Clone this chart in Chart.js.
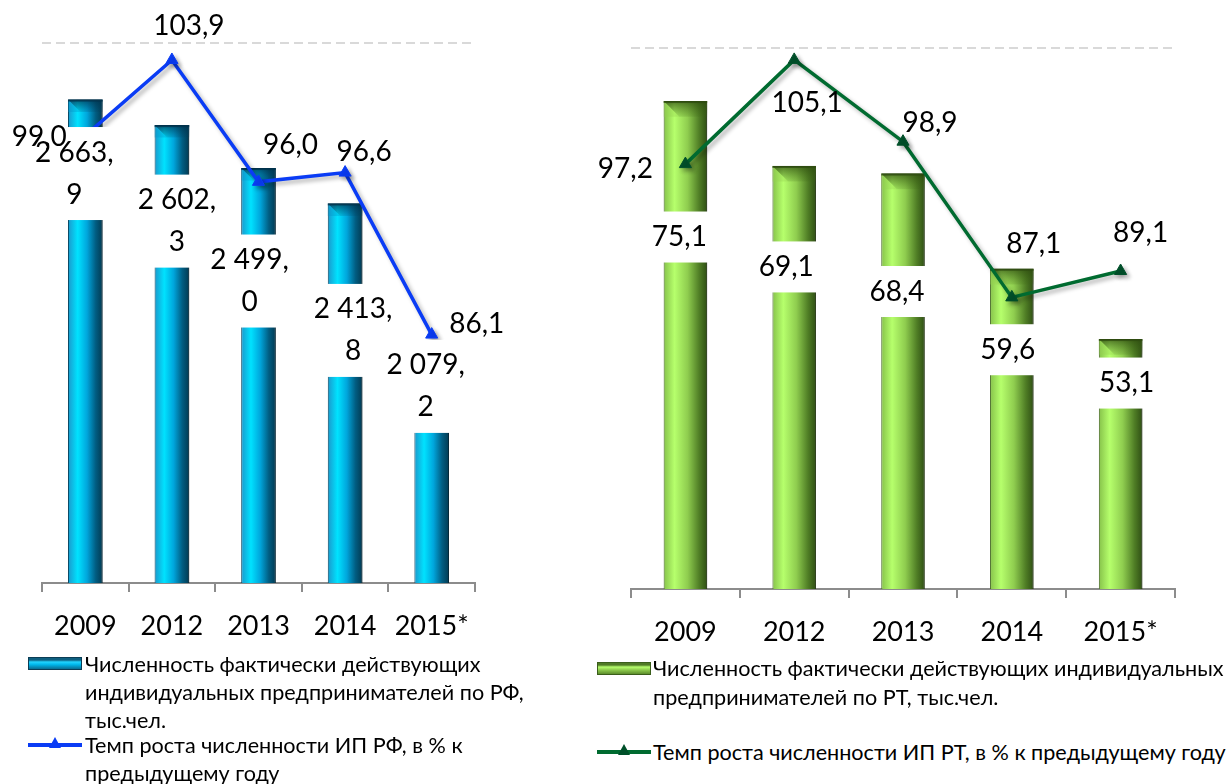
<!DOCTYPE html>
<html lang="ru">
<head>
<meta charset="utf-8">
<title>Индивидуальные предприниматели РФ и РТ</title>
<script src="https://cdn.jsdelivr.net/npm/chart.js@4.4.1/dist/chart.umd.min.js"></script>
<style>
    html, body { margin: 0; padding: 0; background: #fff; }
    body { width: 1229px; height: 784px; position: relative; overflow: hidden; font-family: Lato, Roboto, sans-serif; color: #000; }
    .chart-box { position: absolute; top: 0; height: 660px; }
    #box-rf { left: 0; width: 590px; }
    #box-rt { left: 590px; width: 639px; }
    .legend-item { position: absolute; font-size: 21.6px; line-height: 28px; white-space: nowrap; }
    .legend-item .bar-icon { position: absolute; left: 0; width: 52px; height: 11px; }
    .legend-item .line-icon { position: absolute; left: 0; width: 54px; height: 4px; }
    .legend-item .line-icon i { position: absolute; left: 21px; top: -6px; width: 0; height: 0;
        border-left: 6px solid transparent; border-right: 6px solid transparent; border-bottom: 11px solid; }
    #leg-rf-bar { left: 28px; top: 650px; padding-left: 57px; }
    #leg-rf-line { left: 28px; top: 731px; padding-left: 57px; }
    #leg-rt-bar { left: 597px; top: 654px; padding-left: 56px; line-height: 29px; }
    #leg-rt-line { left: 597px; top: 738px; padding-left: 56px; }
    #leg-rf-bar .bar-icon { top: 7px; border: 1px solid #0b3d55;
        background: linear-gradient(to bottom, #0e5f80 0, #0e5f80 2px, #22d4ff 4px, #00b6ea 60%, #0a6d92 100%); }
    #leg-rt-bar .bar-icon { top: 8px; border: 1px solid #3b5e1b;
        background: linear-gradient(to bottom, #4f7a25 0, #4f7a25 2px, #b6ff6c 4px, #92d050 60%, #5c8d2c 100%); }
    #leg-rf-line .line-icon { top: 12px; background: #0a3cf5; }
    #leg-rf-line .line-icon i { border-bottom-color: #0a3cf5; }
    #leg-rt-line .line-icon { top: 12px; background: #006b30; }
    #leg-rt-line .line-icon i { border-bottom-color: #00502a; }
</style>
</head>
<body>
<div class="chart-box" id="box-rf"><canvas id="chart-rf" width="590" height="660"></canvas></div>
<div class="chart-box" id="box-rt"><canvas id="chart-rt" width="639" height="660"></canvas></div>

<div class="legend-item" id="leg-rf-bar"><span class="bar-icon"></span>Численность фактически действующих<br>индивидуальных предпринимателей по РФ,<br>тыс.чел.</div>
<div class="legend-item" id="leg-rf-line"><span class="line-icon"><i></i></span>Темп роста численности ИП РФ, в % к<br>предыдущему году</div>
<div class="legend-item" id="leg-rt-bar"><span class="bar-icon"></span>Численность фактически действующих индивидуальных<br>предпринимателей по РТ, тыс.чел.</div>
<div class="legend-item" id="leg-rt-line"><span class="line-icon"><i></i></span>Темп роста численности ИП РТ, в % к предыдущему году</div>

<script>
// Data
const years = ['2009', '2012', '2013', '2014', '2015*'];

const rfCount = [2663.9, 2602.3, 2499.0, 2413.8, 2079.2];   // тыс. чел.
const rfGrowth = [99.0, 103.9, 96.0, 96.6, 86.1];           // % к предыдущему году
const rfCountRange = [1500, 2800];
const rfGrowthRange = [70, 105];

const rtCount = [75.1, 69.1, 68.4, 59.6, 53.1];
const rtGrowth = [97.2, 105.1, 98.9, 87.1, 89.1];
const rtCountRange = [30, 80];
const rtGrowthRange = [65, 106];

// label nudges (px), as the labels were placed in the original
const rfBarLabelShift = [[-11, 74], [5, 96], [-9, 113], [8, 127], [-6, 44]];
const rfLineLabelShift = [[-46, 1], [17, -34], [32, -37], [19, -21], [45, -11]];
const rtBarLabelShift = [[-6, 136], [-8, 101], [-6, 118], [-4, 81], [6, 44]];
const rtLineLabelShift = [[-60, 5], [13, 43], [27, -19], [22, -53], [20, -38]];

const BAR_SHARE = 0.4;

function formatNum(v) {
    const parts = v.toFixed(1).split('.');
    const whole = parts[0].replace(/\B(?=(\d{3})+(?!\d))/g, ' ');
    return whole + ',' + parts[1];
}

// horizontal gradient across every bar, so it looks like a rounded column
function barGradient(stops) {
    return function(ctx) {
        const chart = ctx.chart;
        const area = chart.chartArea;
        if (!area || ctx.type !== 'data') return stops[1][1];
        const cx = chart.scales.x.getPixelForValue(ctx.dataIndex);
        const half = (area.right - area.left) / chart.data.labels.length * BAR_SHARE / 2;
        const g = chart.ctx.createLinearGradient(cx - half, 0, cx + half, 0);
        stops.forEach(s => g.addColorStop(s[0], s[1]));
        return g;
    };
}

// shadows + bevel caps on the columns
const shadePlugin = {
    id: 'shade',
    beforeDatasetDraw(chart, args) {
        const c = chart.ctx;
        c.save();
        if (args.meta.type === 'bar') {
            c.shadowColor = 'rgba(0, 0, 0, 0.5)';
            c.shadowBlur = 9;
            c.shadowOffsetX = 7;
            c.shadowOffsetY = 1;
        } else {
            c.shadowColor = 'rgba(0, 0, 0, 0.3)';
            c.shadowBlur = 4;
            c.shadowOffsetX = 3;
            c.shadowOffsetY = 3;
        }
    },
    afterDatasetDraw(chart, args, opts) {
        const c = chart.ctx;
        c.restore();
        if (args.meta.type !== 'bar') return;
        args.meta.data.forEach(bar => {
            const L = bar.x - bar.width / 2, R = bar.x + bar.width / 2;
            const T = bar.y, B = bar.base;
            const b = Math.min(bar.width * 0.36, (B - T) / 2);
            c.save();
            // top cap: thin dark rim, shaded slant on the right, lighter triangle on the left
            const g = c.createLinearGradient(0, T, 0, T + b);
            g.addColorStop(0, opts.topDark);
            g.addColorStop(1, opts.topMid);
            c.fillStyle = g;
            c.beginPath();
            c.moveTo(L, T); c.lineTo(R, T); c.lineTo(R, T + b); c.lineTo(L + b, T + b);
            c.closePath(); c.fill();
            c.fillStyle = opts.topLeft;
            c.beginPath();
            c.moveTo(L, T); c.lineTo(L + b, T + b); c.lineTo(L, T + b);
            c.closePath(); c.fill();
            c.fillStyle = opts.topDark;
            c.fillRect(L, T, R - L, 2);
            // bottom cap
            c.fillStyle = opts.bottomLight;
            c.beginPath();
            c.moveTo(L, B - b); c.lineTo(R - b, B - b); c.lineTo(R, B); c.lineTo(L, B);
            c.closePath(); c.fill();
            c.restore();
        });
    }
};

// value labels: white boxes for the columns, plain text for the line
const labelPlugin = {
    id: 'valueLabels',
    afterDatasetsDraw(chart, args, opts) {
        const c = chart.ctx;
        const barMeta = chart.getDatasetMeta(0);
        const lineMeta = chart.getDatasetMeta(1);
        c.save();
        c.font = opts.font;
        c.textAlign = 'center';
        c.textBaseline = 'middle';

        barMeta.data.forEach((bar, i) => {
            const text = formatNum(chart.data.datasets[0].data[i]);
            const lines = opts.wrap ? [text.split(',')[0] + ',', text.split(',')[1]] : [text];
            const sh = opts.barShift[i];
            const cx = bar.x + sh[0];
            const cy = bar.y + sh[1];
            const w = Math.max(...lines.map(l => c.measureText(l).width)) + 12;
            const h = lines.length * opts.lineHeight + 9;
            c.fillStyle = '#fff';
            c.fillRect(cx - w / 2, cy - h / 2, w, h);
            c.fillStyle = '#000';
            lines.forEach((l, k) => {
                c.fillText(l, cx, cy - h / 2 + 4.5 + opts.lineHeight * (k + 0.5));
            });
        });

        lineMeta.data.forEach((pt, i) => {
            const sh = opts.lineShift[i];
            c.fillStyle = '#000';
            c.fillText(formatNum(chart.data.datasets[1].data[i]), pt.x + sh[0], pt.y + sh[1]);
        });
        c.restore();
    }
};

function makeChart(canvasId, cfg) {
    const ctx = document.getElementById(canvasId).getContext('2d');
    return new Chart(ctx, {
        type: 'bar',
        data: {
            labels: years,
            datasets: [
                {
                    type: 'bar',
                    label: cfg.barLabel,
                    data: cfg.counts,
                    yAxisID: 'y',
                    order: 2,
                    backgroundColor: barGradient(cfg.barStops),
                    borderColor: cfg.barEdge,
                    borderWidth: 1,
                    borderSkipped: false,
                    categoryPercentage: BAR_SHARE,
                    barPercentage: 1
                },
                {
                    type: 'line',
                    label: cfg.lineLabel,
                    data: cfg.growth,
                    yAxisID: 'y2',
                    order: 1,
                    borderColor: cfg.lineColor,
                    borderWidth: 3.5,
                    pointStyle: 'triangle',
                    pointRadius: 7,
                    pointBackgroundColor: cfg.pointColor,
                    pointBorderColor: cfg.pointColor,
                    pointBorderWidth: 1,
                    tension: 0,
                    fill: false
                }
            ]
        },
        options: {
            responsive: false,
            animation: false,
            events: [],
            layout: { padding: cfg.padding },
            plugins: {
                legend: { display: false },
                tooltip: { enabled: false },
                shade: cfg.shade,
                valueLabels: {
                    font: '28px Lato, Roboto, sans-serif',
                    lineHeight: 42,
                    wrap: cfg.wrap,
                    barShift: cfg.barShift,
                    lineShift: cfg.lineShift
                }
            },
            scales: {
                x: {
                    offset: true,
                    grid: {
                        offset: true,
                        drawOnChartArea: false,
                        drawTicks: true,
                        tickLength: 9,
                        color: '#8c8c8c',
                        lineWidth: 2
                    },
                    border: { display: true, color: '#8c8c8c', width: 2 },
                    ticks: {
                        color: '#000',
                        font: { family: 'Lato, Roboto, sans-serif', size: 27 },
                        padding: 18
                    },
                    afterFit: function(scale) { scale.height = cfg.axisHeight; }
                },
                y: {
                    display: true,
                    min: cfg.countRange[0],
                    max: cfg.countRange[1],
                    ticks: { display: false, stepSize: cfg.countRange[1] - cfg.countRange[0] },
                    grid: {
                        drawTicks: false,
                        lineWidth: 2,
                        color: function(c) {
                            return c.tick && c.tick.value === cfg.countRange[1] ? '#d9d9d9' : 'rgba(0,0,0,0)';
                        }
                    },
                    border: { display: false, dash: [9, 5] }
                },
                y2: {
                    display: false,
                    min: cfg.growthRange[0],
                    max: cfg.growthRange[1]
                }
            }
        },
        plugins: [shadePlugin, labelPlugin]
    });
}

makeChart('chart-rf', {
    counts: rfCount,
    growth: rfGrowth,
    countRange: rfCountRange,
    growthRange: rfGrowthRange,
    barLabel: 'Численность фактически действующих индивидуальных предпринимателей по РФ, тыс.чел.',
    lineLabel: 'Темп роста численности ИП РФ, в % к предыдущему году',
    barStops: [[0, '#1b98cc'], [0.28, '#00e2ff'], [0.55, '#00a6dc'], [0.8, '#015d82'], [1, '#023a52']],
    barEdge: '#0b4a66',
    lineColor: '#0a3cf5',
    pointColor: '#0a3cf5',
    shade: { topDark: 'rgba(0, 50, 75, 0.75)', topMid: 'rgba(0, 60, 90, 0.15)', topLeft: 'rgba(0, 150, 200, 0.35)', bottomLight: 'rgba(40, 220, 255, 0.5)' },
    padding: { left: 42, right: 115, top: 43, bottom: 0 },
    axisHeight: 77,
    wrap: true,
    barShift: rfBarLabelShift,
    lineShift: rfLineLabelShift
});

makeChart('chart-rt', {
    counts: rtCount,
    growth: rtGrowth,
    countRange: rtCountRange,
    growthRange: rtGrowthRange,
    barLabel: 'Численность фактически действующих индивидуальных предпринимателей по РТ, тыс.чел.',
    lineLabel: 'Темп роста численности ИП РТ, в % к предыдущему году',
    barStops: [[0, '#86c24a'], [0.25, '#b6ff6c'], [0.55, '#8fcd4f'], [0.82, '#4f7d25'], [1, '#2f4f14']],
    barEdge: '#4a6d28',
    lineColor: '#006b30',
    pointColor: '#00502a',
    shade: { topDark: 'rgba(45, 75, 15, 0.75)', topMid: 'rgba(60, 100, 20, 0.15)', topLeft: 'rgba(150, 210, 80, 0.35)', bottomLight: 'rgba(190, 255, 120, 0.5)' },
    padding: { left: 41, right: 54, top: 48, bottom: 0 },
    axisHeight: 71,
    wrap: false,
    barShift: rtBarLabelShift,
    lineShift: rtLineLabelShift
});
</script>
</body>
</html>
